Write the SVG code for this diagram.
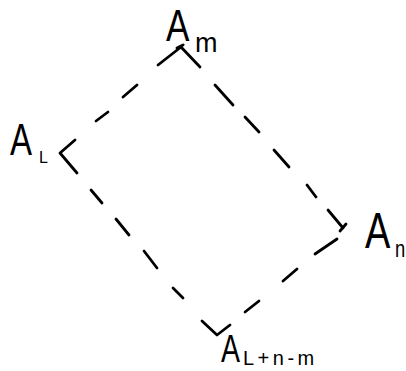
<svg xmlns="http://www.w3.org/2000/svg" width="406" height="371" viewBox="0 0 406 371">
<style>
.e line,.e polyline{stroke:#000;stroke-width:2.8;stroke-linecap:round;stroke-linejoin:round;fill:none}
.t{font-family:"Liberation Sans",Arial,sans-serif;fill:#000}
</style>
<rect width="406" height="371" fill="#fff"/>
<g id="connectors" class="e">
<line x1="123" y1="97" x2="137" y2="85"/>
<line x1="96" y1="121" x2="108" y2="112"/>
<line x1="215" y1="85" x2="233" y2="105"/>
<line x1="245" y1="117" x2="259" y2="132"/>
<line x1="274" y1="150" x2="289" y2="167"/>
<line x1="307" y1="185" x2="316" y2="197"/>
<line x1="91" y1="190" x2="102" y2="203"/>
<line x1="116" y1="219" x2="129" y2="235"/>
<line x1="144" y1="251" x2="157" y2="268"/>
<line x1="173" y1="288" x2="183" y2="298"/>
<line x1="283" y1="281" x2="297" y2="269"/>
<line x1="245" y1="312" x2="259" y2="301"/>
</g>
<g id="node-Am">
<g class="e"><polyline points="158,65 181,47 200,67"/><line x1="177" y1="48" x2="183" y2="45"/></g>
<text class="t" transform="translate(166,41) scale(0.78,1)" font-size="45">A</text>
<text class="t" x="195" y="52" font-size="27">m</text>
</g>
<g id="node-AL">
<g class="e"><polyline points="75,140 60,153 77,173"/></g>
<text class="t" transform="translate(10,155) scale(0.75,1)" font-size="44">A</text>
<text class="t" x="39" y="163" font-size="16">L</text>
</g>
<g id="node-An">
<g class="e"><line x1="328" y1="210" x2="343" y2="228"/><line x1="346" y1="224" x2="340" y2="231"/><line x1="315" y1="254" x2="337" y2="239"/></g>
<text class="t" transform="translate(365,248) scale(0.76,1)" font-size="50">A</text>
<text class="t" transform="translate(395,257) scale(0.8,1)" font-size="23">n</text>
</g>
<g id="node-ALnm">
<g class="e"><polyline points="202,321 217,335 230,325"/></g>
<text class="t" transform="translate(221,362) scale(0.75,1)" font-size="38">A</text>
<text class="t" x="243" y="365" font-size="20" letter-spacing="3.5">L+n-m</text>
</g>
</svg>
